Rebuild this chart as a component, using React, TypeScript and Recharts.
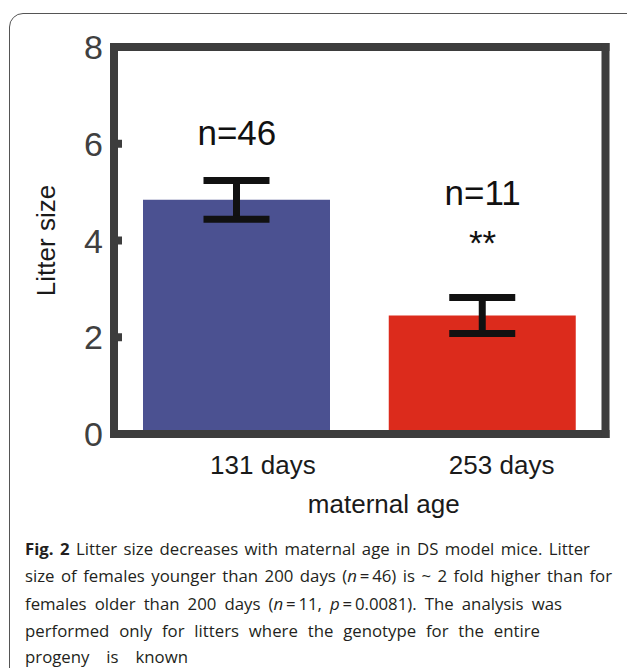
import React from "react";
import {
  BarChart, Bar, XAxis, YAxis, ErrorBar, Cell, ReferenceDot,
} from "recharts";

// maternal age groups
const groups = ["131 days", "253 days"];
const litterMeans = [4.84, 2.45];
const litterSem = [0.4, 0.37];
const barColors = ["#4b5191", "#dc2b1c"];
const yTicks = [0, 2, 4, 6, 8];

// text above the bars: group, value on the y scale, text
const notes = [
  { group: "131 days", at: 5.97, text: "n=46" },
  { group: "253 days", at: 4.73, text: "n=11" },
  { group: "253 days", at: 3.7, text: "**" },
];

const data = groups.map((g, i) => ({ group: g, mean: litterMeans[i], sem: litterSem[i] }));

const AXIS = "#3d3d3d";
const FONT = "'Liberation Sans', Arial, Helvetica, sans-serif";
const tickShift = [26, 19];
const thin = "\u2009";

function GroupTick(props: any) {
  const { x, y, payload, index } = props;
  return (
    <text x={x + (tickShift[index] ?? 0)} y={y} dy="0.71em" textAnchor="middle"
      fontSize={26} fontFamily={FONT} fill="#1a1a1a">
      {payload.value}
    </text>
  );
}

function YTitle(props: any) {
  const { viewBox } = props;
  const x = viewBox.x + 1;
  const y = viewBox.y + viewBox.height / 2;
  return (
    <text x={x} y={y} transform={`rotate(-90, ${x}, ${y})`} textAnchor="middle"
      fontSize={26} fontFamily={FONT} fill="#1a1a1a">
      Litter size
    </text>
  );
}

function XTitle(props: any) {
  const { viewBox } = props;
  return (
    <text x={viewBox.x + viewBox.width / 2 + 24} y={viewBox.y + 79} textAnchor="middle"
      fontSize={26} fontFamily={FONT} fill="#1a1a1a">
      maternal age
    </text>
  );
}

function NoteText(text: string) {
  return (props: any) => {
    const { viewBox } = props;
    return (
      <text x={viewBox.x + viewBox.width / 2} y={viewBox.y + viewBox.height / 2}
        textAnchor="middle" fontSize={35} fontFamily={FONT} fill="#111">
        {text}
      </text>
    );
  };
}

const capLine = { fontFamily: "'Open Sans', Lato, sans-serif", fontSize: 16.8, color: "#231f20" };

function CapLine({ top, right, children }: any) {
  return (
    <div style={{
      ...capLine, position: "absolute", left: 25, width: right - 25, top,
      lineHeight: "20px", textAlign: "justify", textAlignLast: "justify",
      whiteSpace: "nowrap",
    }}>
      {children}
    </div>
  );
}

export default function App() {
  return (
    <div style={{ position: "absolute", left: 0, top: 0, width: 627, height: 668, overflow: "hidden", background: "#fff" }}>
      <div style={{
        position: "absolute", left: 9, top: 13, width: 640, height: 700,
        border: "1.5px solid #555", borderRadius: 14, boxSizing: "border-box",
      }} />
      <div style={{ position: "absolute", left: 0, top: 0 }}>
        <BarChart width={627} height={560} data={data}
          margin={{ top: 46, right: 20.5, left: 54, bottom: 46 }}>
          <XAxis dataKey="group" xAxisId="bottom" height={80}
            axisLine={{ stroke: AXIS, strokeWidth: 8, strokeLinecap: "square" }}
            tickLine={false} tickSize={0} tickMargin={22}
            tick={<GroupTick />} label={<XTitle />} />
          <XAxis dataKey="group" xAxisId="top" orientation="top" height={1}
            ticks={[groups[0]]} tick={false}
            axisLine={{ stroke: AXIS, strokeWidth: 8, strokeLinecap: "square" }}
            tickLine={{ stroke: AXIS, strokeWidth: 8 }} tickSize={-8} />
          <YAxis yAxisId="left" domain={[0, 8]} ticks={yTicks} width={60}
            axisLine={{ stroke: AXIS, strokeWidth: 8, strokeLinecap: "square" }}
            tickLine={{ stroke: AXIS, strokeWidth: 8 }} tickSize={-8} tickMargin={19}
            tick={{ fontSize: 34, fontFamily: FONT, fill: "#404040" }}
            label={<YTitle />} />
          <YAxis yAxisId="right" orientation="right" domain={[0, 8]} ticks={yTicks} width={1}
            axisLine={{ stroke: AXIS, strokeWidth: 8, strokeLinecap: "square" }}
            tickLine={{ stroke: AXIS, strokeWidth: 8 }} tickSize={-9} tick={false} />
          <Bar dataKey="mean" xAxisId="bottom" yAxisId="left" barSize={187} isAnimationActive={false}>
            {data.map((d, i) => <Cell key={d.group} fill={barColors[i]} />)}
            <ErrorBar dataKey="sem" width={33} stroke="#111" strokeWidth={7} isAnimationActive={false} />
          </Bar>
          {notes.map((n) => (
            <ReferenceDot key={n.text} xAxisId="bottom" yAxisId="left" x={n.group} y={n.at}
              r={1} fill="none" stroke="none" label={NoteText(n.text)} />
          ))}
        </BarChart>
      </div>
      <CapLine top={539} right={590}>
        <b>Fig. 2</b> Litter size decreases with maternal age in DS model mice. Litter
      </CapLine>
      <CapLine top={566} right={612}>
        size of females younger than 200 days (<i>n</i>{thin}={thin}46) is ~ 2 fold higher than for
      </CapLine>
      <CapLine top={594} right={562}>
        females older than 200 days (<i>n</i>{thin}={thin}11, <i>p</i>{thin}={thin}0.0081). The analysis was
      </CapLine>
      <CapLine top={621} right={540}>
        performed only for litters where the genotype for the entire
      </CapLine>
      <CapLine top={647} right={188}>
        progeny is known
      </CapLine>
    </div>
  );
}
